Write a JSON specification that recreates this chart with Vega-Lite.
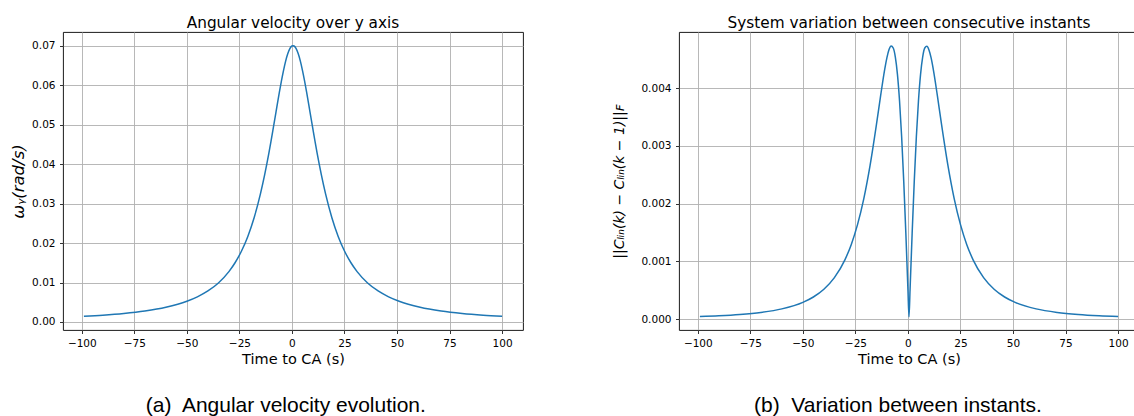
{
  "$schema": "https://vega.github.io/schema/vega-lite/v6.json",
  "padding": {"left": 10, "top": 15, "right": 0, "bottom": 0},
  "background": "white",
  "spacing": 88,
  "config": {
    "font": "DejaVu Sans",
    "view": {"stroke": "#000", "strokeWidth": 0.9},
    "axis": {
      "domain": false, "grid": true, "gridColor": "#b0b0b0", "gridWidth": 0.9,
      "tickColor": "#000", "tickSize": 3.5, "tickWidth": 0.8,
      "labelFont": "DejaVu Sans", "labelFontSize": 10.5, "labelColor": "#000", "labelPadding": 4.5,
      "titleFont": "DejaVu Sans", "titleFontWeight": "normal", "titleColor": "#000", "titleFontSize": 14.5
    },
    "title": {"font": "DejaVu Sans", "fontSize": 15.3, "fontWeight": "normal", "color": "#000"}
  },
  "datasets": {
    "d": [
      {"t": -99, "w": 0.001436, "c": 0.0000424},
      {"t": -90, "w": 0.001729, "c": 0.0000558},
      {"t": -80, "w": 0.002171, "c": 0.0000783},
      {"t": -70, "w": 0.002804, "c": 0.0001144},
      {"t": -60, "w": 0.003753, "c": 0.0001759},
      {"t": -50, "w": 0.005263, "c": 0.0002887},
      {"t": -45, "w": 0.006375, "c": 0.0003816},
      {"t": -40, "w": 0.007856, "c": 0.0005158},
      {"t": -35, "w": 0.009887, "c": 0.0007164},
      {"t": -30, "w": 0.01276, "c": 0.001025},
      {"t": -27, "w": 0.01507, "c": 0.001288},
      {"t": -24, "w": 0.01798, "c": 0.001634},
      {"t": -21, "w": 0.02168, "c": 0.002085},
      {"t": -18, "w": 0.02641, "c": 0.002664},
      {"t": -15, "w": 0.03244, "c": 0.003365},
      {"t": -13, "w": 0.03726, "c": 0.003868},
      {"t": -12, "w": 0.03992, "c": 0.004112},
      {"t": -11, "w": 0.04274, "c": 0.004336},
      {"t": -10, "w": 0.04570, "c": 0.004526},
      {"t": -9, "w": 0.04878, "c": 0.004665},
      {"t": -8, "w": 0.05191, "c": 0.004728},
      {"t": -7, "w": 0.05507, "c": 0.004693},
      {"t": -6, "w": 0.05815, "c": 0.004536},
      {"t": -5, "w": 0.06109, "c": 0.004236},
      {"t": -4, "w": 0.06377, "c": 0.003776},
      {"t": -3, "w": 0.06610, "c": 0.003155},
      {"t": -2, "w": 0.06795, "c": 0.002383},
      {"t": -1, "w": 0.06925, "c": 0.001485},
      {"t": 0, "w": 0.06992, "c": 0.000504},
      {"t": 0.5, "w": 0.07000, "c": 0.00004},
      {"t": 1, "w": 0.06992, "c": 0.000504},
      {"t": 2, "w": 0.06925, "c": 0.001485},
      {"t": 3, "w": 0.06795, "c": 0.002383},
      {"t": 4, "w": 0.06610, "c": 0.003155},
      {"t": 5, "w": 0.06377, "c": 0.003776},
      {"t": 6, "w": 0.06109, "c": 0.004236},
      {"t": 7, "w": 0.05815, "c": 0.004536},
      {"t": 8, "w": 0.05507, "c": 0.004693},
      {"t": 9, "w": 0.05191, "c": 0.004722},
      {"t": 10, "w": 0.04878, "c": 0.004660},
      {"t": 11, "w": 0.04570, "c": 0.004526},
      {"t": 12, "w": 0.04274, "c": 0.004336},
      {"t": 13, "w": 0.03992, "c": 0.004112},
      {"t": 14, "w": 0.03726, "c": 0.003868},
      {"t": 16, "w": 0.03244, "c": 0.003365},
      {"t": 19, "w": 0.02641, "c": 0.002664},
      {"t": 22, "w": 0.02168, "c": 0.002085},
      {"t": 25, "w": 0.01798, "c": 0.001634},
      {"t": 28, "w": 0.01507, "c": 0.001288},
      {"t": 31, "w": 0.01276, "c": 0.001025},
      {"t": 36, "w": 0.009887, "c": 0.0007164},
      {"t": 41, "w": 0.007856, "c": 0.0005158},
      {"t": 46, "w": 0.006375, "c": 0.0003816},
      {"t": 51, "w": 0.005263, "c": 0.0002887},
      {"t": 61, "w": 0.003753, "c": 0.0001759},
      {"t": 71, "w": 0.002804, "c": 0.0001144},
      {"t": 81, "w": 0.002171, "c": 0.0000783},
      {"t": 91, "w": 0.001729, "c": 0.0000558},
      {"t": 100, "w": 0.001436, "c": 0.0000424}
    ]
  },
  "hconcat": [
    {
      "title": {"text": "(a)\u00a0 Angular velocity evolution.", "orient": "bottom", "font": "Liberation Sans", "fontSize": 21, "offset": 29, "anchor": "middle", "dx": 19},
      "vconcat": [
        {
          "width": 460,
          "height": 298,
          "title": {"text": "Angular velocity over y axis", "offset": 1},
          "data": {"name": "d"},
          "mark": {"type": "line", "color": "#1f77b4", "strokeWidth": 1.5, "interpolate": "monotone"},
          "encoding": {
            "x": {
              "field": "t", "type": "quantitative",
              "scale": {"domain": [-108.95, 109.95], "nice": false, "zero": false},
              "axis": {"values": [-100, -75, -50, -25, 0, 25, 50, 75, 100], "title": "Time to CA (s)", "labelExpr": "replace(datum.label, '-', '−')", "titlePadding": 4}
            },
            "y": {
              "field": "w", "type": "quantitative",
              "scale": {"domain": [-0.00203, 0.07347], "nice": false, "zero": false},
              "axis": {"values": [0, 0.01, 0.02, 0.03, 0.04, 0.05, 0.06, 0.07], "format": ".2f", "title": "ωᵧ(rad/s)", "titleFontStyle": "italic", "titleFontSize": 16.5, "titlePadding": 5}
            }
          }
        }
      ]
    },
    {
      "title": {"text": "(b)\u00a0 Variation between instants.", "orient": "bottom", "font": "Liberation Sans", "fontSize": 21, "offset": 29, "anchor": "middle", "dx": 22},
      "vconcat": [
        {
          "width": 460,
          "height": 298,
          "title": {"text": "System variation between consecutive instants", "offset": 1},
          "data": {"name": "d"},
          "mark": {"type": "line", "color": "#1f77b4", "strokeWidth": 1.5, "interpolate": "monotone"},
          "encoding": {
            "x": {
              "field": "t", "type": "quantitative",
              "scale": {"domain": [-108.95, 109.95], "nice": false, "zero": false},
              "axis": {"values": [-100, -75, -50, -25, 0, 25, 50, 75, 100], "title": "Time to CA (s)", "labelExpr": "replace(datum.label, '-', '−')", "titlePadding": 4}
            },
            "y": {
              "field": "c", "type": "quantitative",
              "scale": {"domain": [-0.00019, 0.00497], "nice": false, "zero": false},
              "axis": {"values": [0, 0.001, 0.002, 0.003, 0.004], "format": ".3f", "title": "||Cₗᵢₙ(k) − Cₗᵢₙ(k − 1)||ꜰ", "titleFontStyle": "italic", "titleFontSize": 14, "titlePadding": 14}
            }
          }
        }
      ]
    }
  ]
}
